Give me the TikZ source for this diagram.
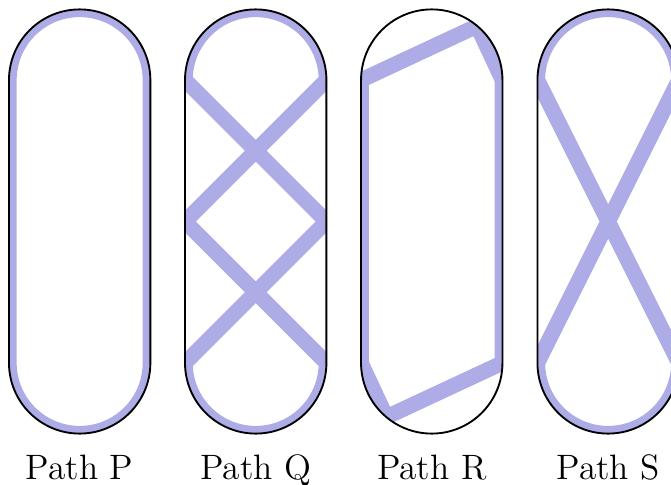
\documentclass[tikz,border=0pt]{standalone}
\begin{document}
\begin{tikzpicture}[x=1cm,y=1cm]
\definecolor{pathblue}{RGB}{173,172,230}
\tikzset{
  outline/.style={draw=black,line width=0.75pt},
  route/.style={draw=pathblue,line width=6.2pt,line join=miter},
  caption/.style={anchor=base,font=\fontsize{14.2}{17}\selectfont}
}
\useasboundingbox (-1.127,-3.727) rectangle (8.364,3.133);

% Path P: runs round the whole rim
\begin{scope}[shift={(0,0)}]
  \begin{scope}
    \clip (-1,2) arc[start angle=180,end angle=0,radius=1] -- (1,-2) arc[start angle=0,end angle=-180,radius=1] -- cycle;
    \draw[route] (-1,2) arc[start angle=180,end angle=0,radius=1] -- (1,-2) arc[start angle=0,end angle=-180,radius=1] -- cycle;
  \end{scope}
  \draw[outline] (-1,2) arc[start angle=180,end angle=0,radius=1] -- (1,-2) arc[start angle=0,end angle=-180,radius=1] -- cycle;
  \node[caption] (capP) at (0,-3.656) {Path P};
\end{scope}

% Path Q: both caps joined by two crossings
\begin{scope}[shift={(2.49,0)}]
  \begin{scope}
    \clip (-1,2) arc[start angle=180,end angle=0,radius=1] -- (1,-2) arc[start angle=0,end angle=-180,radius=1] -- cycle;
    \draw[route] (-1,2) arc[start angle=180,end angle=0,radius=1] -- (-1,0) -- (1,-2) arc[start angle=0,end angle=-180,radius=1] -- (1,0) -- cycle;
  \end{scope}
  \draw[outline] (-1,2) arc[start angle=180,end angle=0,radius=1] -- (1,-2) arc[start angle=0,end angle=-180,radius=1] -- cycle;
  \node[caption] (capQ) at (0,-3.656) {Path Q};
\end{scope}

% Path R: a hexagon with one corner on each cap
\begin{scope}[shift={(4.98,0)}]
  \begin{scope}
    \clip (-1,2) arc[start angle=180,end angle=0,radius=1] -- (1,-2) arc[start angle=0,end angle=-180,radius=1] -- cycle;
    \draw[route] (-1,2) -- (0.6428,2.7660) -- (1,2) -- (1,-2) -- (-0.6428,-2.7660) -- (-1,-2) -- cycle;
  \end{scope}
  \draw[outline] (-1,2) arc[start angle=180,end angle=0,radius=1] -- (1,-2) arc[start angle=0,end angle=-180,radius=1] -- cycle;
  \node[caption] (capR) at (0,-3.656) {Path R};
\end{scope}

% Path S: both caps joined by one crossing
\begin{scope}[shift={(7.475,0)}]
  \begin{scope}
    \clip (-1,2) arc[start angle=180,end angle=0,radius=1] -- (1,-2) arc[start angle=0,end angle=-180,radius=1] -- cycle;
    \draw[route] (-1,2) arc[start angle=180,end angle=0,radius=1] -- (-1,-2) arc[start angle=180,end angle=360,radius=1] -- cycle;
  \end{scope}
  \draw[outline] (-1,2) arc[start angle=180,end angle=0,radius=1] -- (1,-2) arc[start angle=0,end angle=-180,radius=1] -- cycle;
  \node[caption] (capS) at (0,-3.656) {Path S};
\end{scope}
\end{tikzpicture}
\end{document}
